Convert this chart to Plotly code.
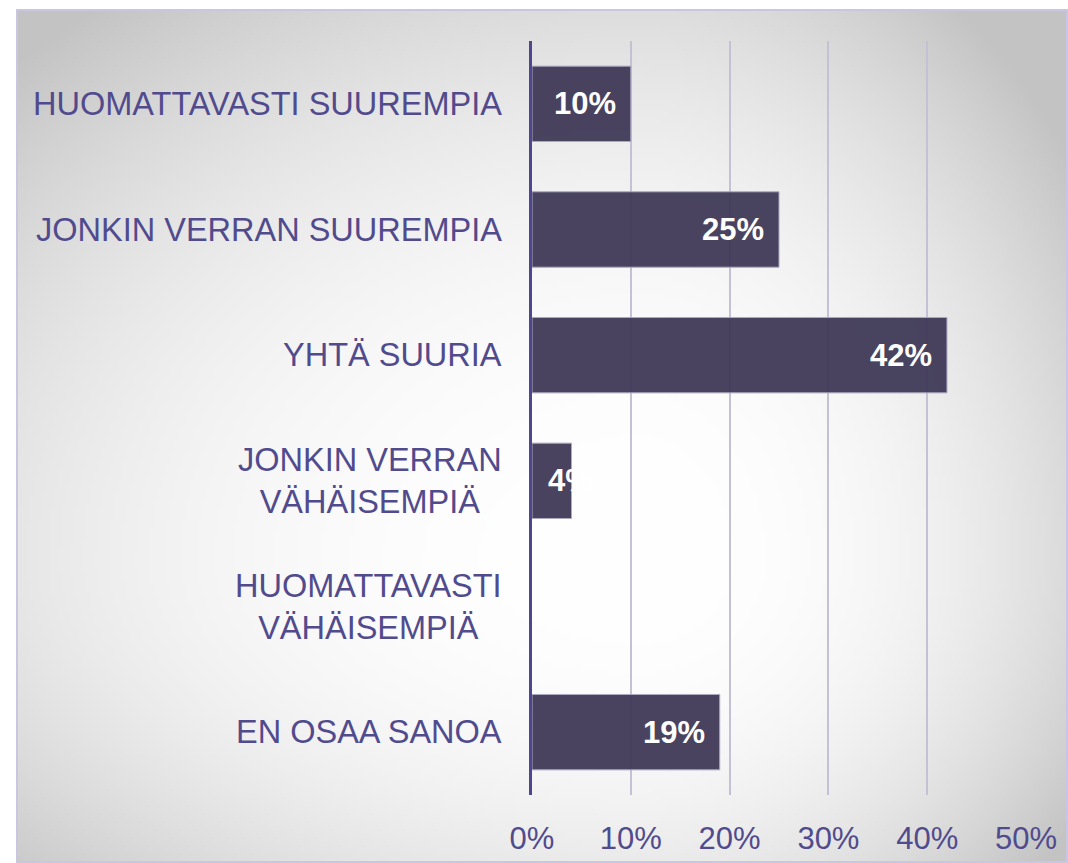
import base64
import struct
import zlib

import numpy as np
import plotly.graph_objects as go

# ---------------- data ----------------
categories = [
    "HUOMATTAVASTI SUUREMPIA",
    "JONKIN VERRAN SUUREMPIA",
    "YHTÄ SUURIA",
    "JONKIN VERRAN<br>VÄHÄISEMPIÄ",
    "HUOMATTAVASTI<br>VÄHÄISEMPIÄ",
    "EN OSAA SANOA",
]
values = [10, 25, 42, 4, None, 19]
x_tick_vals = [0, 10, 20, 30, 40, 50]
x_tick_text = ["0%", "10%", "20%", "30%", "40%", "50%"]

# ---------------- styles ----------------
W, H = 1068, 863
ML, MR, MT, MB = 532, 42, 41, 68
PW, PH = W - ML - MR, H - MT - MB

LABEL_COLOR = "#514b8d"
BAR_COLOR = "rgb(64,58,88)"
FONT = "Liberation Sans, Arial, sans-serif"


def px_to_paper_x(px):
    return (px - ML) / PW


def px_to_paper_y(py):
    return (H - MB - py) / PH


def make_png(arr):
    h, w, _ = arr.shape
    raw = b"".join(b"\x00" + arr[i].tobytes() for i in range(h))

    def chunk(t, d):
        c = struct.pack(">I", len(d)) + t + d
        return c + struct.pack(">I", zlib.crc32(t + d) & 0xFFFFFFFF)

    png = (b"\x89PNG\r\n\x1a\n"
           + chunk(b"IHDR", struct.pack(">IIBBBBB", w, h, 8, 2, 0, 0, 0))
           + chunk(b"IDAT", zlib.compress(raw, 9))
           + chunk(b"IEND", b""))
    return "data:image/png;base64," + base64.b64encode(png).decode()


# radial-ish background gradient (white centre, grey edges)
bx0, by0, bx1, by1 = 16, 9, 1068, 863
GW, GH = 263, 214
xs = bx0 + (np.arange(GW) + 0.5) * (bx1 - bx0) / GW
ys = by0 + (np.arange(GH) + 0.5) * (by1 - by0) / GH
X, Y = np.meshgrid(xs, ys)
cx, cy = 640, 560
ax = np.where(X < cx, 800, 470)
ay = np.where(Y < cy, 620, 420)
r = np.sqrt(((X - cx) / ax) ** 2 + ((Y - cy) / ay) ** 2)
drop = np.minimum(45 * r ** 2.4, 60)
c = np.clip(255 - drop, 0, 255).astype(np.uint8)
bg = np.stack([c, c, c], axis=-1)
bg_uri = make_png(bg)

fig = go.Figure()
fig.add_trace(go.Bar(
    y=categories,
    x=values,
    orientation="h",
    width=0.6,
    marker=dict(color=BAR_COLOR, opacity=0.95,
                line=dict(color="#aaa6bf", width=1)),
    hoverinfo="skip",
    showlegend=False,
))

annotations = []
# category labels (centred multi-line, right of them the axis)
for cat in categories:
    annotations.append(dict(
        x=0, xref="paper", y=cat, yref="y",
        xanchor="right", yanchor="middle", xshift=-28,
        text=cat, align="center", showarrow=False,
        font=dict(family=FONT, size=32.5, color=LABEL_COLOR),
    ))
# data labels inside the bars
for cat, v in zip(categories, values):
    if v is None:
        continue
    if v >= 8:
        annotations.append(dict(
            x=v, xref="x", y=cat, yref="y",
            xanchor="right", yanchor="middle", xshift=-13,
            text=f"{v}%", showarrow=False,
            font=dict(family=FONT, size=31, color="white", weight="bold"),
        ))
    else:
        annotations.append(dict(
            x=0, xref="x", y=cat, yref="y",
            xanchor="left", yanchor="middle", xshift=14,
            text=f"{v}%", showarrow=False,
            font=dict(family=FONT, size=31, color="white", weight="bold"),
        ))

fig.update_layout(
    width=W, height=H,
    margin=dict(l=ML, r=MR, t=MT, b=MB, pad=0, autoexpand=False),
    paper_bgcolor="white",
    plot_bgcolor="rgba(0,0,0,0)",
    bargap=0.4,
    images=[dict(
        source=bg_uri, xref="paper", yref="paper",
        x=px_to_paper_x(bx0), y=px_to_paper_y(by0),
        sizex=(bx1 - bx0) / PW, sizey=(by1 - by0) / PH,
        xanchor="left", yanchor="top", sizing="stretch", layer="below",
    )],
    shapes=[dict(
        type="rect", xref="paper", yref="paper",
        x0=px_to_paper_x(17), x1=px_to_paper_x(1067),
        y0=px_to_paper_y(862), y1=px_to_paper_y(10),
        line=dict(color="#cac6e2", width=2), fillcolor="rgba(0,0,0,0)",
        layer="below",
    )],
    annotations=annotations,
    xaxis=dict(
        range=[0, 50], tickvals=x_tick_vals, ticktext=x_tick_text,
        showgrid=True, gridcolor="#c3c1d3", gridwidth=1.5,
        zeroline=False, showline=False, ticks="",
        ticklabelstandoff=22, automargin=False,
        tickfont=dict(family=FONT, size=31, color=LABEL_COLOR),
        fixedrange=True,
    ),
    yaxis=dict(
        categoryorder="array", categoryarray=categories,
        autorange="reversed", automargin=False,
        showticklabels=False, showgrid=False, zeroline=False,
        showline=True, linecolor="#4f4690", linewidth=3,
        ticks="", fixedrange=True,
    ),
    font=dict(family=FONT),
)

fig.write_html(
    "out.html",
    config={"displayModeBar": False},
    post_script="document.body.style.margin='0';document.body.style.overflow='hidden';",
)
